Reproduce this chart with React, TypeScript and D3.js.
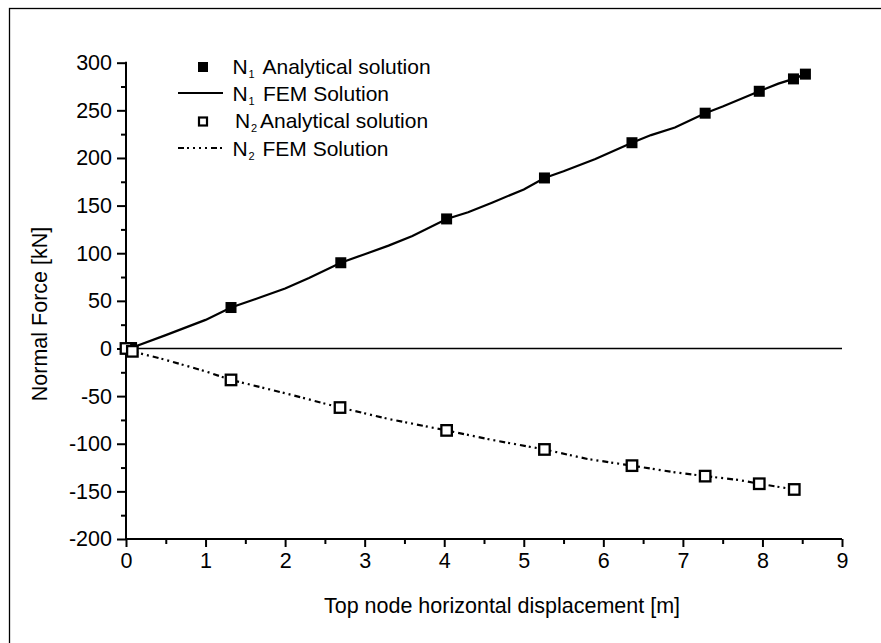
import React, { useEffect, useRef } from "react";
import * as d3 from "d3";

// analytical solution (markers)
const n1Analytical: [number, number][] = [
  [0, 0], [0.07, 1], [1.32, 43], [2.7, 90], [4.03, 136], [5.26, 179],
  [6.36, 216], [7.28, 247], [7.96, 270], [8.39, 283], [8.54, 288],
];
const n2Analytical: [number, number][] = [
  [0, 0], [0.08, -3], [1.32, -33], [2.69, -62], [4.03, -86], [5.26, -106],
  [6.36, -123], [7.28, -134], [7.96, -142], [8.4, -148],
];

// FEM solution (lines)
const n1Fem: [number, number][] = [
  [0.08, 1], [0.5, 14], [1.0, 30], [1.32, 43], [1.7, 54], [2.0, 63], [2.3, 74],
  [2.7, 90], [3.0, 99], [3.3, 108], [3.6, 118], [4.03, 136], [4.3, 143],
  [4.6, 153], [5.0, 167], [5.26, 179], [5.5, 186], [5.9, 199], [6.36, 216],
  [6.6, 224], [6.9, 232], [7.28, 247], [7.5, 254], [7.96, 270], [8.2, 278],
  [8.39, 283], [8.54, 288],
];
const n2Fem: [number, number][] = [
  [0.08, -3], [0.5, -12], [1.0, -24], [1.32, -33], [2.0, -47], [2.69, -62],
  [3.3, -74], [4.03, -86], [4.6, -96], [5.26, -106], [5.8, -116], [6.36, -123],
  [6.9, -130], [7.28, -134], [7.7, -138], [7.96, -142], [8.4, -148],
];

const xTicks = [0, 1, 2, 3, 4, 5, 6, 7, 8, 9];
const xMinor = [0.5, 1.5, 2.5, 3.5, 4.5, 5.5, 6.5, 7.5, 8.5];
const yTicks = [-200, -150, -100, -50, 0, 50, 100, 150, 200, 250, 300];
const yMinor = [-175, -125, -75, -25, 25, 75, 125, 175, 225, 275];

const FONT = "'Liberation Sans', Arial, Helvetica, sans-serif";

const App = () => {
  const container = useRef<SVGSVGElement>(null);

  useEffect(() => {
    const svg = d3.select(container.current);
    svg.selectAll("*").remove();

    const x = d3.scaleLinear().domain([0, 9]).range([126, 842]);
    const y = d3.scaleLinear().domain([-200, 300]).range([539, 62.7]);

    // outer frame (cut off at right/bottom)
    svg.append("rect")
      .attr("x", 9.5).attr("y", 8.5)
      .attr("width", 1000).attr("height", 1000)
      .attr("fill", "none").attr("stroke", "#000").attr("stroke-width", 1.3);

    const fmt = (d: any) => String(d);

    // axes
    svg.append("g")
      .attr("transform", `translate(${x(0)},0)`)
      .call(d3.axisLeft(y).tickValues(yTicks).tickSize(9).tickPadding(5).tickFormat(fmt))
      .call(g => g.select(".domain").remove());
    svg.append("g")
      .attr("transform", `translate(${x(0)},0)`)
      .call(d3.axisLeft(y).tickValues(yMinor).tickSize(5).tickFormat(() => ""))
      .call(g => g.select(".domain").remove());
    svg.append("g")
      .attr("transform", `translate(0,${y(-200)})`)
      .call(d3.axisBottom(x).tickValues(xTicks).tickSize(8).tickPadding(6).tickFormat(fmt))
      .call(g => g.select(".domain").remove());
    svg.append("g")
      .attr("transform", `translate(0,${y(-200)})`)
      .call(d3.axisBottom(x).tickValues(xMinor).tickSize(5).tickFormat(() => ""))
      .call(g => g.select(".domain").remove());

    svg.selectAll(".tick line").attr("stroke", "#000").attr("stroke-width", 2);
    svg.selectAll(".tick text")
      .attr("font-family", FONT).attr("font-size", 21.5).attr("fill", "#000");

    svg.append("path")
      .attr("d", `M${x(0)},${y(300) - 1}V${y(-200)}H${x(9)}`)
      .attr("fill", "none").attr("stroke", "#000").attr("stroke-width", 2);

    // zero line
    svg.append("line")
      .attr("x1", x(0)).attr("x2", x(9))
      .attr("y1", y(0)).attr("y2", y(0))
      .attr("stroke", "#000").attr("stroke-width", 1.6);

    const line = d3.line<[number, number]>().x(d => x(d[0])).y(d => y(d[1]));

    svg.append("path").datum(n1Fem)
      .attr("d", line).attr("fill", "none")
      .attr("stroke", "#000").attr("stroke-width", 2.2);

    svg.append("path").datum(n2Fem)
      .attr("d", line).attr("fill", "none")
      .attr("stroke", "#000").attr("stroke-width", 2.2)
      .attr("stroke-dasharray", "6 3 2 4 2 4");

    const s = 11;
    svg.selectAll("rect.n1").data(n1Analytical).enter().append("rect")
      .attr("class", "n1")
      .attr("x", d => x(d[0]) - s / 2).attr("y", d => y(d[1]) - s / 2)
      .attr("width", s).attr("height", s).attr("fill", "#000");

    const so = 10.5;
    svg.selectAll("rect.n2").data(n2Analytical).enter().append("rect")
      .attr("class", "n2")
      .attr("x", d => x(d[0]) - so / 2).attr("y", d => y(d[1]) - so / 2)
      .attr("width", so).attr("height", so)
      .attr("fill", "#fff").attr("stroke", "#000").attr("stroke-width", 2.3);

    // axis titles
    svg.append("text")
      .attr("x", 502).attr("y", 613).attr("text-anchor", "middle")
      .attr("font-family", FONT).attr("font-size", 21.5)
      .text("Top node horizontal displacement [m]");
    svg.append("text")
      .attr("transform", "translate(47,314) rotate(-90)").attr("text-anchor", "middle")
      .attr("font-family", FONT).attr("font-size", 21.5)
      .text("Normal Force [kN]");

    // legend
    const legend = [
      { sub: "1", label: "Analytical solution", type: "filled", yb: 74, nx: 232.5, lx: 262.5 },
      { sub: "1", label: "FEM Solution", type: "solid", yb: 101, nx: 232.5, lx: 263 },
      { sub: "2", label: "Analytical solution", type: "open", yb: 128, nx: 235, lx: 260 },
      { sub: "2", label: "FEM Solution", type: "dotted", yb: 156, nx: 232.5, lx: 262.5 },
    ];
    const lg = svg.append("g");
    legend.forEach(l => {
      const cy = l.yb - 7;
      if (l.type === "filled") {
        lg.append("rect").attr("x", 203 - 5).attr("y", cy - 5).attr("width", 10).attr("height", 10).attr("fill", "#000");
      } else if (l.type === "open") {
        lg.append("rect").attr("x", 203 - 4).attr("y", cy - 3.5).attr("width", 8).attr("height", 8)
          .attr("fill", "#fff").attr("stroke", "#000").attr("stroke-width", 2.2);
      } else {
        lg.append("line").attr("x1", 178).attr("x2", 223).attr("y1", cy - 1).attr("y2", cy - 1)
          .attr("stroke", "#000").attr("stroke-width", 2)
          .attr("stroke-dasharray", l.type === "dotted" ? "6 3 2 4 2 4 2 4 2 4" : null);
      }
      const t = lg.append("text").attr("font-family", FONT).attr("font-size", 21);
      t.append("tspan").attr("x", l.nx).attr("y", l.yb).text("N");
      t.append("tspan").attr("x", l.nx + 16).attr("y", l.yb + 4).attr("font-size", 11).text(l.sub);
      lg.append("text").attr("x", l.lx).attr("y", l.yb)
        .attr("font-family", FONT).attr("font-size", 21).text(l.label);
    });
  }, []);

  return (
    <svg
      ref={container}
      width={881}
      height={643}
      style={{ position: "absolute", left: 0, top: 0, background: "#fff" }}
    />
  );
};

export default App;
